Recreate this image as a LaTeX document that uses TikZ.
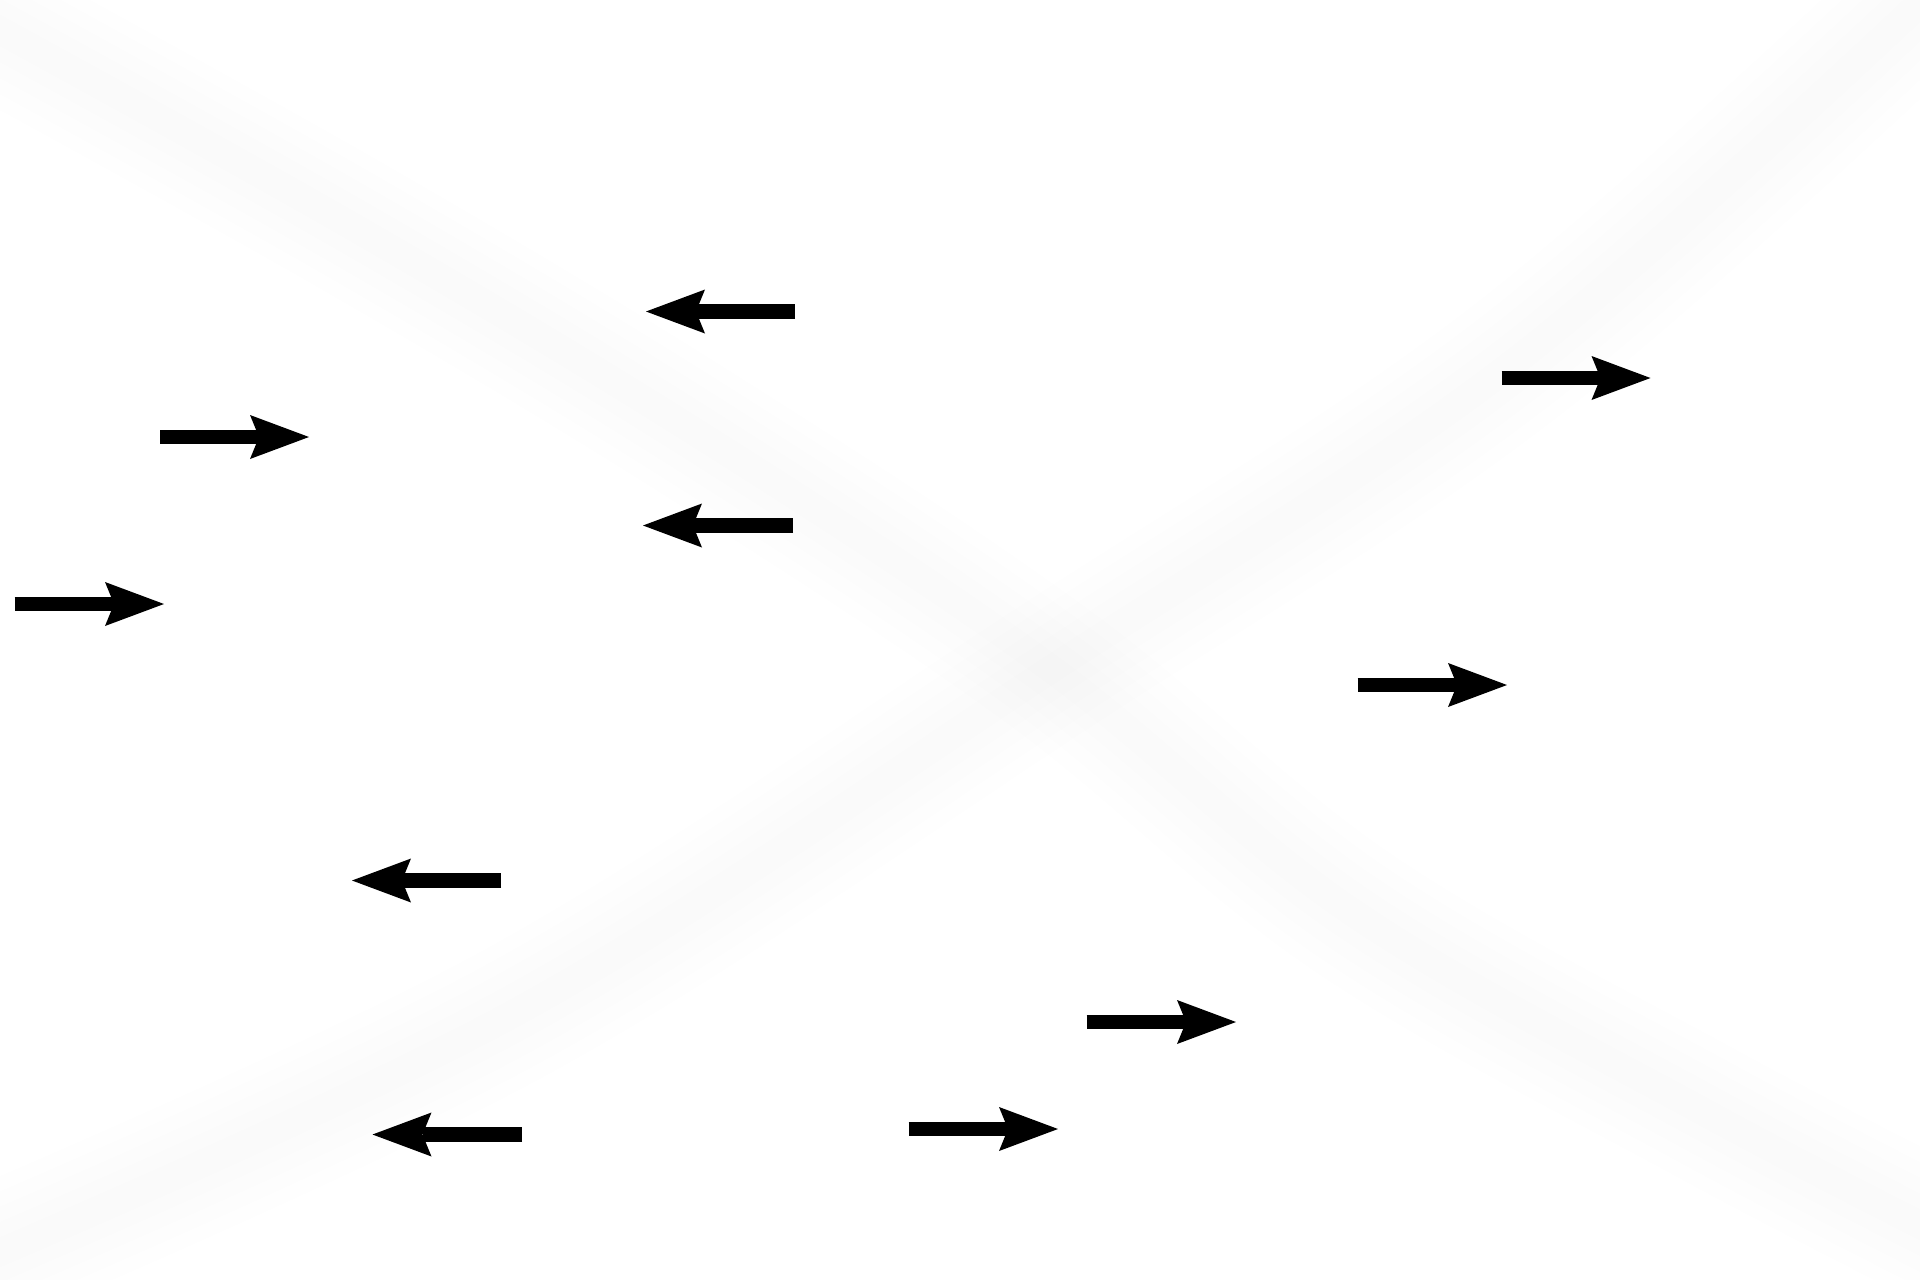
\documentclass[tikz,border=0pt]{standalone}
\usetikzlibrary{arrows.meta}
\tikzset{
  arr/.style={line width=14.7pt, draw=black,
    -{Stealth[length=59pt, width=44pt, inset=9pt, line width=0pt]}},
  haze/.style={draw=black, draw opacity=0.004, line cap=round, line join=round}
}
\begin{document}
\begin{tikzpicture}[x=1pt, y=-1pt]
\fill[white] (0,0) rectangle (1920,1280);
\useasboundingbox (0,0) rectangle (1920,1280);
% faint blurred X in the background
\foreach \w in {140,112,84,56,28}{
  \draw[haze, line width=\w pt] plot[smooth, tension=0.6] coordinates
    {(-30,14) (350,225) (700,435) (1050,668) (1352,912) (1704,1112) (1960,1245)};
  \draw[haze, line width=\w pt] plot[smooth, tension=0.6] coordinates
    {(1950,-25) (1517,360) (1050,670) (520,1010) (-30,1265)};
}
% arrows
\coordinate (aT) at (795,311.5);  \coordinate (aH) at (646,311.5);
\coordinate (bT) at (793,525.5);  \coordinate (bH) at (643,525.5);
\coordinate (cT) at (1501.5,378); \coordinate (cH) at (1650.5,378);
\coordinate (dT) at (1357.7,685); \coordinate (dH) at (1507,685);
\coordinate (eT) at (501,880.5);  \coordinate (eH) at (352,880.5);
\coordinate (fT) at (522,1134.5); \coordinate (fH) at (372.5,1134.5);
\coordinate (gT) at (1086.7,1022);\coordinate (gH) at (1236,1022);
\coordinate (hT) at (908.7,1129); \coordinate (hH) at (1058,1129);
\coordinate (iT) at (160,437);    \coordinate (iH) at (309,437);
\coordinate (jT) at (14.7,604);   \coordinate (jH) at (164,604);
\foreach \n in {a,b,c,d,e,f,g,h,i,j}{
  \draw[arr] (\n T) -- (\n H);
}
\end{tikzpicture}
\end{document}
